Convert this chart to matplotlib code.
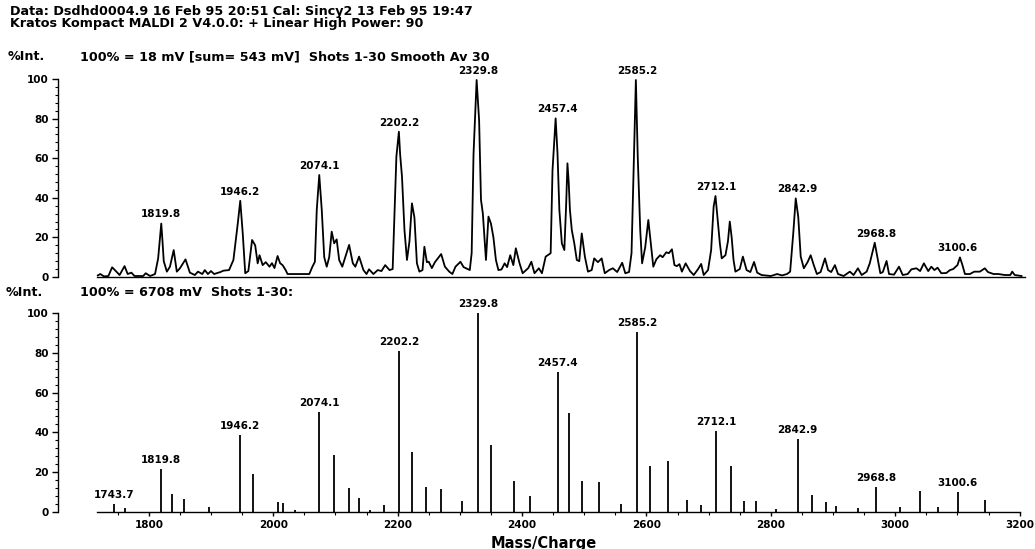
import numpy as np
import matplotlib.pyplot as plt
from matplotlib.ticker import MultipleLocator, FixedLocator

plt.rcParams['font.family'] = 'DejaVu Sans'
plt.rcParams['font.weight'] = 'bold'

header_1 = 'Data: Dsdhd0004.9 16 Feb 95 20:51 Cal: Sincy2 13 Feb 95 19:47'
header_2 = 'Kratos Kompact MALDI 2 V4.0.0: + Linear High Power: 90'
top_info = '100% = 18 mV [sum= 543 mV]  Shots 1-30 Smooth Av 30'
bottom_info = '100% = 6708 mV  Shots 1-30:'

# smoothed trace (m/z, %Int)
smooth_mass = [1718, 1722, 1728, 1735, 1741, 1747, 1753, 1761, 1766, 1772, 1777, 1791, 1795, 1802,
               1810, 1815, 1818, 1820, 1822, 1824, 1829, 1834, 1840, 1845, 1850, 1859, 1866, 1874,
               1879, 1886, 1890, 1895, 1900, 1905, 1915, 1920, 1929, 1936, 1943, 1947, 1951, 1955,
               1960, 1966, 1971, 1975, 1978, 1983, 1988, 1994, 1998, 2002, 2007, 2011, 2015, 2020,
               2023, 2058, 2063, 2067, 2070, 2074, 2078, 2082, 2086, 2090, 2094, 2098, 2102, 2106,
               2111, 2122, 2128, 2132, 2138, 2145, 2150, 2154, 2161, 2168, 2174, 2180, 2187, 2192,
               2198, 2202, 2204, 2207, 2211, 2215, 2219, 2223, 2227, 2231, 2235, 2240, 2243, 2247,
               2250, 2255, 2260, 2270, 2276, 2283, 2288, 2293, 2301, 2306, 2316, 2319, 2322, 2327,
               2331, 2334, 2337, 2342, 2346, 2350, 2354, 2358, 2362, 2367, 2372, 2376, 2381, 2386,
               2390, 2396, 2401, 2410, 2415, 2420, 2427, 2432, 2438, 2446, 2449, 2454, 2457, 2460,
               2464, 2468, 2471, 2473, 2475, 2477, 2480, 2484, 2488, 2492, 2496, 2501, 2506, 2512,
               2516, 2522, 2528, 2533, 2540, 2546, 2553, 2561, 2566, 2572, 2576, 2580, 2583, 2586,
               2590, 2593, 2598, 2603, 2606, 2611, 2616, 2622, 2626, 2632, 2636, 2641, 2645, 2649,
               2653, 2657, 2663, 2670, 2676, 2683, 2688, 2692, 2699, 2704, 2708, 2711, 2714, 2718,
               2721, 2727, 2731, 2734, 2737, 2740, 2743, 2750, 2755, 2761, 2767, 2773, 2778, 2785,
               2800, 2810, 2818, 2826, 2831, 2836, 2840, 2844, 2848, 2853, 2859, 2864, 2869, 2874,
               2880, 2887, 2892, 2897, 2903, 2908, 2917, 2927, 2933, 2940, 2946, 2954, 2959, 2967,
               2972, 2976, 2980, 2986, 2990, 2998, 3006, 3012, 3020, 3026, 3034, 3040, 3046, 3053,
               3058, 3063, 3068, 3074, 3082, 3088, 3093, 3100, 3104, 3108, 3112, 3120, 3127, 3136,
               3144, 3149, 3158, 3166, 3176, 3185, 3188, 3192, 3203]
smooth_int = [0.8, 1.5, 0.3, 0.5, 4.9, 3.0, 1.0, 5.5, 1.5, 2.2, 0.5, 0.5, 1.9, 0.5,
              1.5, 9.4, 20, 27, 18, 8, 2.7, 5.2, 13.6, 2.7, 4.4, 8.9, 2.2, 1.0,
              2.7, 1.5, 3.5, 1.5, 3.0, 1.5, 2.5, 3.2, 3.5, 8.6, 27, 38.5, 22, 1.9,
              3.0, 18.7, 16, 6.9, 11, 6.0, 7.5, 5.2, 7.0, 4.5, 10.6, 7.0, 6.0, 3.5,
              1.5, 1.5, 5.2, 7.7, 34, 51.5, 34, 10, 5.2, 10, 22.9, 17, 19, 8.6,
              5.2, 16.2, 6.9, 5.2, 10.3, 3.5, 1.5, 3.9, 1.5, 3.5, 3.0, 6.0, 3.5, 4.0,
              60.8, 73.4, 62, 50.7, 23.7, 8.6, 18, 37.2, 30, 6.9, 2.7, 3.5, 15.3, 7.5,
              7.7, 4.5, 7.5, 11.6, 5.2, 2.7, 1.5, 5.2, 7.7, 5.0, 3.5, 12, 62, 99.5,
              79, 39, 32, 8.6, 30.5, 27, 20, 8.6, 3.5, 3.8, 6.9, 5.0, 11, 6.0,
              14.5, 6.9, 1.9, 4.5, 7.7, 1.9, 4.4, 1.9, 10.3, 12, 54, 80.1, 62.5, 33.8,
              17, 13.6, 37.2, 57.4, 48, 33.8, 23.7, 17, 8.6, 8.0, 22, 10.3, 2.7, 3.5,
              9.4, 7.5, 9.4, 1.9, 3.5, 4.4, 2.5, 7.2, 1.9, 2.5, 12, 62.5, 99.5, 60.8,
              23.7, 6.9, 15, 28.8, 20, 5.2, 9.0, 11, 10, 12.5, 12, 14, 6.0, 5.5,
              6.5, 2.7, 6.9, 3.0, 1.0, 4.0, 6.6, 1.0, 3.5, 13.6, 35.5, 40.9, 30.5, 17,
              9.4, 11, 18, 28, 20, 8.6, 2.7, 4.0, 10.3, 3.5, 2.5, 7.6, 2.2, 1.0,
              0.5, 1.5, 0.8, 1.5, 2.7, 22, 39.7, 30.5, 10.3, 4.4, 7.5, 11, 6.0, 1.5,
              2.5, 9.4, 3.5, 2.5, 6.0, 1.5, 0.5, 2.7, 1.0, 4.4, 1.0, 2.7, 6.9, 17.3,
              8.6, 1.9, 2.5, 8.1, 1.5, 1.2, 5.2, 1.0, 1.5, 3.9, 4.4, 3.0, 6.9, 3.0,
              5.2, 3.5, 4.7, 1.9, 2.0, 3.5, 4.0, 6.0, 9.9, 6.0, 1.5, 1.5, 2.7, 2.7,
              4.4, 2.5, 1.5, 1.5, 1.0, 1.0, 2.7, 1.0, 0.5]
smooth_labels = [1819.8, 1946.2, 2074.1, 2202.2, 2329.8, 2457.4, 2585.2,
                 2712.1, 2842.9, 2968.8, 3100.6]

# centroided peaks, lower panel (m/z, %Int)
stick_mass = [1743.7, 1762, 1819.8, 1838, 1857, 1896, 1946.2, 1968, 2007, 2015, 2035,
              2074.1, 2098, 2122, 2138, 2155, 2178, 2202.2, 2223, 2245, 2270, 2303,
              2329.8, 2350, 2387, 2413, 2457.4, 2475, 2496, 2523, 2559, 2585.2, 2605,
              2634, 2665, 2687, 2712.1, 2736, 2757, 2776, 2808, 2842.9, 2866, 2888,
              2904, 2940, 2968.8, 3007, 3039, 3069, 3100.6, 3144]
stick_int = [4.0, 2.0, 21.5, 8.9, 6.4, 2.7, 38.7, 19.0, 4.9, 4.7, 1.0,
             50.4, 28.6, 11.9, 6.9, 1.0, 3.4, 80.9, 30.3, 12.4, 11.4, 5.7,
             100, 33.8, 15.4, 8.2, 70.2, 49.7, 15.7, 14.9, 4.2, 90.4, 22.9,
             25.4, 6.2, 3.3, 40.5, 22.9, 5.3, 5.7, 1.5, 36.7, 8.7, 4.8,
             3.2, 1.8, 12.6, 2.3, 10.7, 2.3, 9.8, 6.0]
stick_labels = [1743.7, 1819.8, 1946.2, 2074.1, 2202.2, 2329.8, 2457.4, 2585.2,
                2712.1, 2842.9, 2968.8, 3100.6]

W, H = 1035, 549
fig = plt.figure(figsize=(W / 100, H / 100), dpi=100)


def px_box(x0, y0, x1, y1):
    return [x0 / W, 1 - y1 / H, (x1 - x0) / W, (y1 - y0) / H]


ax_top = fig.add_axes(px_box(58, 79, 1029, 277))
ax_bot = fig.add_axes(px_box(58, 313, 1029, 512))

for ax in (ax_top, ax_bot):
    ax.set_xlim(1654, 3215)
    ax.set_ylim(0, 100)
    ax.patch.set_visible(False)
    ax.spines['top'].set_visible(False)
    ax.spines['right'].set_visible(False)
    ax.spines['left'].set_bounds(0, 100)
    ax.spines['left'].set_linewidth(1.0)
    ax.spines['bottom'].set_linewidth(1.0)
    ax.yaxis.set_major_locator(MultipleLocator(20))
    ax.yaxis.set_minor_locator(MultipleLocator(4))
    ax.tick_params(axis='y', which='major', length=4.5, width=1.0, labelsize=7.5, pad=2)
    ax.tick_params(axis='y', which='minor', length=2.5, width=0.8)

ax_top.spines['bottom'].set_bounds(1717, 3208)
ax_top.tick_params(axis='x', which='both', bottom=False, labelbottom=False)

ax_bot.spines['bottom'].set_bounds(1717, 3200)
ax_bot.xaxis.set_major_locator(MultipleLocator(200))
ax_bot.xaxis.set_minor_locator(FixedLocator(np.arange(1750, 3201, 50)))
ax_bot.tick_params(axis='x', which='major', length=3, width=1.0, labelsize=7.5, pad=3)
ax_bot.tick_params(axis='x', which='minor', length=2, width=0.8)

# upper: smoothed spectrum
ax_top.plot(smooth_mass, smooth_int, color='black', lw=1.3, clip_on=False)
sm = np.array(smooth_mass)
si = np.array(smooth_int)
for m in smooth_labels:
    h = si[np.abs(sm - m) <= 6].max()
    ax_top.annotate(f'{m:.1f}', (m, h), xytext=(0, 3), textcoords='offset points',
                    ha='center', va='bottom', fontsize=7.5, fontweight='bold')

# lower: stick spectrum
ax_bot.vlines(stick_mass, 0, stick_int, color='black', lw=1.3)
for m in stick_labels:
    h = stick_int[stick_mass.index(m)]
    ax_bot.annotate(f'{m:.1f}', (m, h), xytext=(0, 3), textcoords='offset points',
                    ha='center', va='bottom', fontsize=7.5, fontweight='bold')

ax_bot.set_xlabel('Mass/Charge', fontsize=10.5, fontweight='bold', labelpad=4)

fig.text(10 / W, 1 - 12 / H, header_1, fontsize=9.2, va='center')
fig.text(10 / W, 1 - 24 / H, header_2, fontsize=9.2, va='center')
fig.text(8 / W, 1 - 57 / H, '%Int.', fontsize=9.2, va='center')
fig.text(80 / W, 1 - 57 / H, top_info, fontsize=9.2, va='center')
fig.text(6 / W, 1 - 292 / H, '%Int.', fontsize=9.2, va='center')
fig.text(80 / W, 1 - 292 / H, bottom_info, fontsize=9.2, va='center')

fig.savefig('out.png', dpi=100, facecolor='white')
